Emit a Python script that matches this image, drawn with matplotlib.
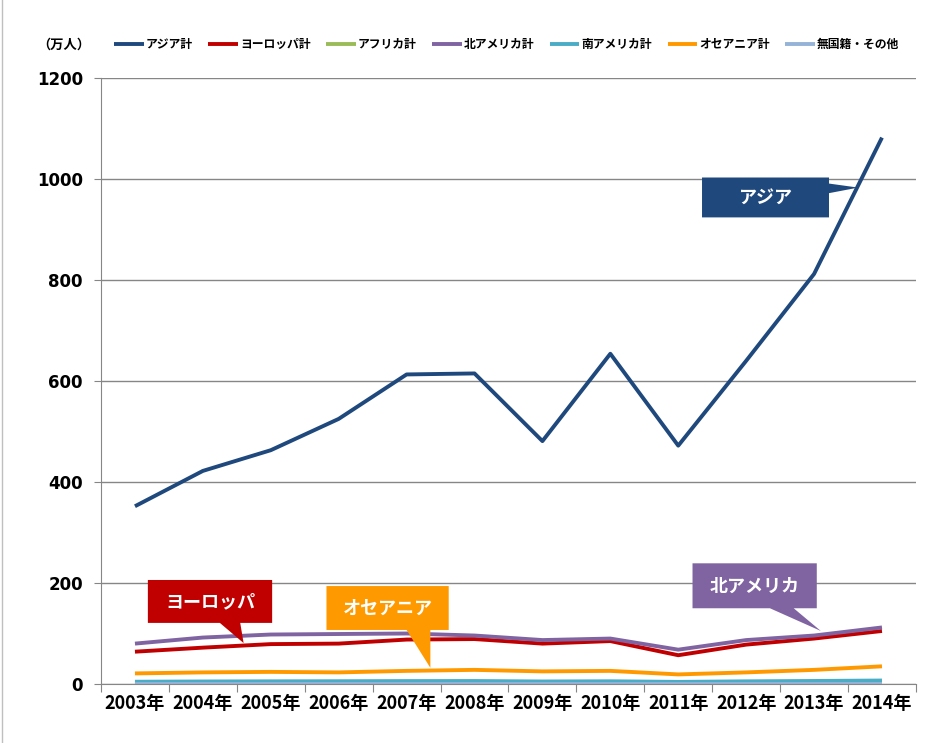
import numpy as np
import matplotlib
matplotlib.use("Agg")
import matplotlib.pyplot as plt
from matplotlib.patches import Polygon
from matplotlib.lines import Line2D

plt.rcParams['font.family'] = ['Noto Sans CJK JP', 'DejaVu Sans']
plt.rcParams['font.weight'] = 'bold'

years = ['2003年', '2004年', '2005年', '2006年', '2007年', '2008年',
         '2009年', '2010年', '2011年', '2012年', '2013年', '2014年']
asia = [352, 422, 463, 525, 613, 615, 481, 654, 472, 640, 812, 1082]
europe = [64, 72, 79, 80, 88, 89, 80, 85, 57, 78, 90, 105]
africa = [2.0, 2.2, 2.3, 2.3, 2.5, 2.6, 2.3, 2.5, 1.9, 2.4, 2.6, 3.0]
n_america = [80, 92, 98, 99, 100, 96, 87, 90, 68, 87, 96, 112]
s_america = [4.5, 5.0, 5.3, 5.5, 5.8, 5.9, 5.0, 5.4, 4.2, 5.3, 6.0, 6.9]
oceania = [21, 23, 24, 23, 26, 28, 25, 26, 19, 23, 28, 35]
other = [0.1] * 12

series = [
    ('アジア計', asia, '#1F497D'),
    ('ヨーロッパ計', europe, '#C00000'),
    ('アフリカ計', africa, '#9BBB59'),
    ('北アメリカ計', n_america, '#8064A2'),
    ('南アメリカ計', s_america, '#4BACC6'),
    ('オセアニア計', oceania, '#FF9900'),
    ('無国籍・その他', other, '#95B3D7'),
]

fig = plt.figure(figsize=(9.25, 7.43), dpi=100)
ax = fig.add_axes([0.1092, 0.0794, 0.881, 0.8156])

x = np.arange(len(years))
for name, vals, col in series:
    ax.plot(x, vals, color=col, lw=2.8, label=name, solid_capstyle='butt')

ax.set_xlim(-0.5, 11.5)
ax.set_ylim(0, 1200)
ax.set_yticks(range(0, 1201, 200))
ax.set_yticklabels([str(v) for v in range(0, 1201, 200)], fontsize=12, fontweight='bold',
                   family=['DejaVu Sans'])
ax.set_xticks(np.arange(-0.5, 12, 1))
ax.set_xticklabels([])
ax.set_xticks(x, minor=True)
ax.set_xticklabels(years, minor=True, fontsize=13, fontweight='bold')
ax.tick_params(axis='x', which='major', length=6, color='#868686')
ax.tick_params(axis='x', which='minor', length=0, pad=7)
ax.tick_params(axis='y', length=5, color='#868686', pad=8)
ax.grid(axis='y', color='#868686', lw=1)
ax.set_axisbelow(True)
for s in ['top', 'right']:
    ax.spines[s].set_visible(False)
for s in ['left', 'bottom']:
    ax.spines[s].set_color('#868686')


def callout(box, base, tip, text, col):
    x0, x1, y0, y1 = box
    side = base[0]
    if side == 'right':
        pts = [(x0, y0), (x0, y1), (x1, y1), (x1, base[1]), tip, (x1, base[2]), (x1, y0)]
    else:
        pts = [(x0, y1), (x0, y0), (base[1], y0), tip, (base[2], y0), (x1, y0), (x1, y1)]
    ax.add_patch(Polygon(pts, closed=True, facecolor=col, edgecolor='none',
                         clip_on=False, zorder=5))
    ax.text((x0 + x1) / 2, (y0 + y1) / 2, text, color='white', fontsize=13,
            fontweight='bold', ha='center', va='center', zorder=6)


callout((8.35, 10.22, 924, 1003), ('right', 991, 972), (10.65, 983), 'アジア', '#1F497D')
callout((0.19, 2.02, 121, 206), ('bottom', 1.25, 1.55), (1.60, 81), 'ヨーロッパ', '#C00000')
callout((2.82, 4.62, 107, 194), ('bottom', 4.0, 4.35), (4.35, 32), 'オセアニア', '#FF9900')
callout((8.21, 10.04, 150, 239), ('bottom', 9.35, 9.7), (10.1, 105), '北アメリカ', '#8064A2')

fig.text(0.040, 0.94, '（万人）', fontsize=9.5, fontweight='bold', va='center')
fig.legend(loc='center left', bbox_to_anchor=(0.112, 0.94), ncol=7, frameon=False,
           handlelength=2.5, handletextpad=0.2, columnspacing=1.3,
           prop={'size': 8.5, 'weight': 'bold'})

fig.add_artist(Line2D([0.002, 0.002], [0, 1], color='#BFBFBF', lw=1))

fig.savefig('out.png', dpi=100)
